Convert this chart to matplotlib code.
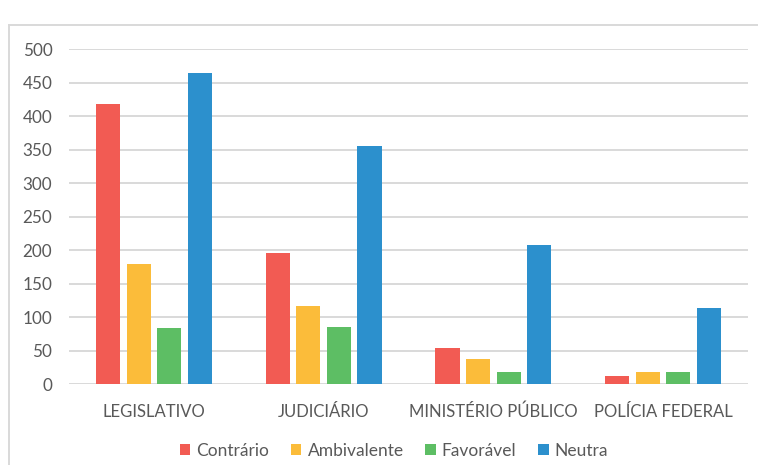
import matplotlib
matplotlib.use("Agg")
import matplotlib.pyplot as plt
import numpy as np
from matplotlib.lines import Line2D

categories = ["LEGISLATIVO", "JUDICIÁRIO", "MINISTÉRIO PÚBLICO", "POLÍCIA FEDERAL"]
series_names = ["Contrário", "Ambivalente", "Favorável", "Neutra"]
contrario = [418, 196, 54, 13]
ambivalente = [180, 117, 38, 19]
favoravel = [84, 86, 19, 19]
neutra = [464, 355, 208, 114]
yticks = [0, 50, 100, 150, 200, 250, 300, 350, 400, 450, 500]

colors = ["#F25B53", "#FBBC3A", "#5DBE64", "#2C90CD"]
text_color = "#595959"
grid_color = "#D9D9D9"

plt.rcParams["font.family"] = ["Lato", "DejaVu Sans"]

fig = plt.figure(figsize=(7.58, 4.65), dpi=100)
ax = fig.add_axes([69 / 758, 1 - 384.3 / 465, (748 - 69) / 758, (384.3 - 49) / 465])

x = np.arange(len(categories))
step = 0.18
width = 0.142
for i, (name, vals) in enumerate(zip(series_names, [contrario, ambivalente, favoravel, neutra])):
    ax.bar(x + (i - 1.5) * step, vals, width=width, color=colors[i], label=name, zorder=3)

ax.set_xlim(-0.5, len(categories) - 0.5)
ax.set_ylim(0, 500)
ax.set_yticks(yticks)
ax.set_xticks(x)
ax.set_xticklabels(categories)
ax.yaxis.grid(True, color=grid_color, linewidth=1.4, zorder=0)
ax.set_axisbelow(True)
for s in ax.spines.values():
    s.set_visible(False)
ax.tick_params(axis="both", length=0, labelsize=12, colors=text_color)
ax.tick_params(axis="y", labelsize=12.3, pad=12)
ax.tick_params(axis="x", pad=14)

# chart frame
fig.add_artist(Line2D([8.5 / 758, 1.0], [1 - 25.5 / 465, 1 - 25.5 / 465],
                      transform=fig.transFigure, color=grid_color, linewidth=1.4))
fig.add_artist(Line2D([8.5 / 758, 8.5 / 758], [0, 1 - 25.5 / 465],
                      transform=fig.transFigure, color=grid_color, linewidth=1.4))

leg = fig.legend(loc="center", bbox_to_anchor=(394 / 758, 1 - 451 / 465), ncol=4,
                 frameon=False, fontsize=12.5, handlelength=0.6, handleheight=0.6,
                 handletextpad=0.35, columnspacing=1.25, borderaxespad=0)
for t in leg.get_texts():
    t.set_color(text_color)

fig.savefig("out.png", dpi=100, facecolor="white")
